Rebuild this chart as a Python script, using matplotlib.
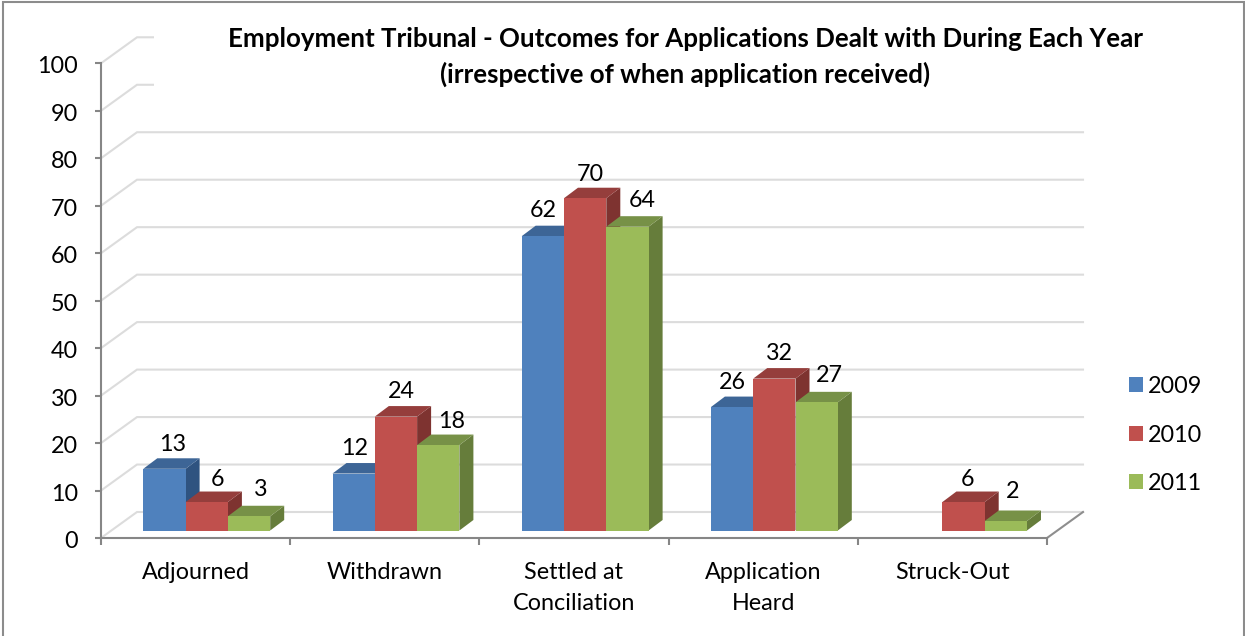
import matplotlib
matplotlib.use("Agg")
import matplotlib.pyplot as plt
from matplotlib.patches import Polygon, Rectangle
from matplotlib.transforms import ScaledTranslation

plt.rcParams['font.family'] = ['Lato', 'DejaVu Sans']

# data
categories = ['Adjourned', 'Withdrawn', 'Settled at\nConciliation', 'Application\nHeard', 'Struck-Out']
years = ['2009', '2010', '2011']
values_2009 = [13, 12, 62, 26, None]
values_2010 = [6, 24, 70, 32, 6]
values_2011 = [3, 18, 64, 27, 2]
y_ticks = list(range(0, 101, 10))

# colours: front, top, side
blue = ['#4F81BD', '#3D6596', '#2F5380']
red = ['#C0504D', '#953E3C', '#7E3330']
green = ['#9BBB59', '#779147', '#667D3B']

W, H = 1245, 636
X0, GROUP_PX = 101, 189.2   # pixel of x=0, pixels per category
Y0, UNIT_PX = 538, 4.747    # pixel of y=0, pixels per value unit

# fake 3d offsets, in data units
wall_dx, wall_dy = 36 / GROUP_PX, 26 / UNIT_PX
bar_dx, bar_dy = 14 / GROUP_PX, 10.5 / UNIT_PX
lift = 7.5 / UNIT_PX
bar_w = 42.3 / GROUP_PX

# label nudges in pixels from the top centre of each bar
label_dx = [[8, 1, 0, 0, 0], [11, 5, 5, 5, 4], [12, 13, 15, 13, 7]]
label_dy = [[24, 25, 26, 25, 0], [23, 25, 24, 25, 23], [27, 24, 26, 27, 30]]
FS = 16.8
TITLE_FS = 18.6

fig = plt.figure(figsize=(W / 100, H / 100), dpi=100)
ax = fig.add_axes([0, 0, 1, 1])
ax.set_xlim(-X0 / GROUP_PX, (W - X0) / GROUP_PX)
ax.set_ylim(-(H - Y0) / UNIT_PX, Y0 / UNIT_PX)

# walls and gridlines
for v in y_ticks:
    ax.plot([0, wall_dx, 5 + wall_dx], [v, v + wall_dy, v + wall_dy],
            color='#DCDCDC', lw=1.5, zorder=1, solid_joinstyle='miter')
ax.plot([5, 5 + wall_dx], [0, wall_dy], color='#8E8E8E', lw=1.5, zorder=1)

# white title box hides the top gridlines
ax.add_patch(Rectangle((154 / W, 1 - 110 / H), 950 / W, 105 / H, transform=ax.transAxes,
                       fc='white', ec='none', zorder=1.5))

series = [values_2009, values_2010, values_2011]
colors = [blue, red, green]
for s, vals in enumerate(series):
    z = 3 + s
    front, top, side = colors[s]
    xs = []
    hs = []
    for i, v in enumerate(vals):
        x = i + bar_w + s * bar_w
        xs.append(x)
        hs.append(0 if v is None else v)
        if v is None:
            continue
        t = v + lift
        ax.add_patch(Polygon([(x + bar_w, lift), (x + bar_w + bar_dx, lift + bar_dy),
                              (x + bar_w + bar_dx, t + bar_dy), (x + bar_w, t)],
                             fc=side, ec='none', zorder=z))
        ax.add_patch(Polygon([(x, t), (x + bar_dx, t + bar_dy),
                              (x + bar_w + bar_dx, t + bar_dy), (x + bar_w, t)],
                             fc=top, ec='none', zorder=z))
        ax.annotate(str(v), (x + bar_w / 2, t), xytext=(label_dx[s][i], label_dy[s][i]),
                    textcoords='offset pixels', ha='center', va='center',
                    fontsize=FS, color='black', zorder=10)
    ax.bar(xs, hs, bar_w, bottom=lift, align='edge', color=front, zorder=z, label=years[s])

# axes
for name in ['top', 'right']:
    ax.spines[name].set_visible(False)
ax.spines['left'].set_position(('data', 0))
ax.spines['bottom'].set_position(('data', 0))
ax.spines['left'].set_bounds(0, 100)
ax.spines['bottom'].set_bounds(0, 5)
for name in ['left', 'bottom']:
    ax.spines[name].set_color('#868686')
    ax.spines[name].set_linewidth(1.5)
    ax.spines[name].set_zorder(2.5)

ax.set_yticks(y_ticks)
ax.tick_params(axis='y', length=4, width=1.5, color='#868686', labelsize=FS, pad=12.5)
shift_down = ScaledTranslation(0, -1.5 / 100, fig.dpi_scale_trans)
for lab in ax.get_yticklabels():
    lab.set_transform(lab.get_transform() + shift_down)
ax.set_xticks(range(6))
ax.set_xticklabels([])
ax.tick_params(axis='x', which='major', length=5, width=1.5, color='#868686')
ax.set_xticks([i + 0.5 for i in range(5)], categories, minor=True)
ax.tick_params(axis='x', which='minor', length=0, labelsize=FS, pad=17.5)
for lab in ax.get_xticklabels(minor=True):
    lab.set_linespacing(1.55)

ax.legend(loc='upper left', bbox_to_anchor=(1129 / W, 1 - 376 / H), frameon=False, fontsize=FS,
          handlelength=0.6, handleheight=0.6, handletextpad=0.22, labelspacing=1.18,
          borderpad=0, borderaxespad=0)

ax.text(685 / W, 1 - 57 / H,
        'Employment Tribunal - Outcomes for Applications Dealt with During Each Year\n'
        '(irrespective of when application received)',
        transform=ax.transAxes, ha='center', va='center', fontsize=TITLE_FS, fontweight='bold',
        linespacing=1.55, zorder=10)

# chart frame, bottom edge is cut off in the reference
fig.add_artist(Rectangle((3 / W, -0.02), 1241 / W, 1.02 - 2 / H, transform=fig.transFigure,
                         fill=False, ec='#8C8C8C', lw=1.5))

fig.savefig('out.png', dpi=100)
